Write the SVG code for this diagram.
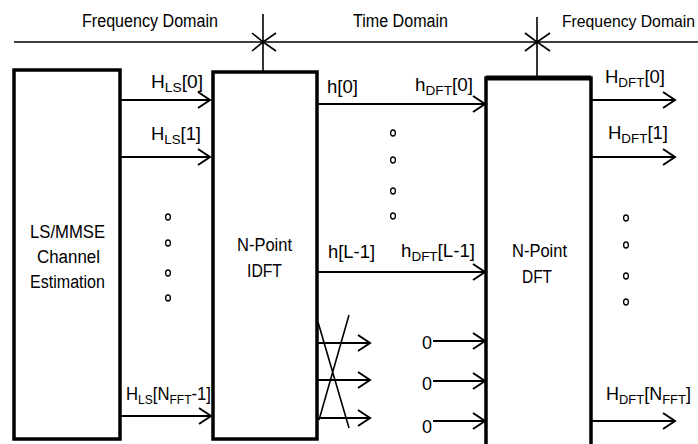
<svg xmlns="http://www.w3.org/2000/svg" width="698" height="444" viewBox="0 0 698 444">
<style>
text{font-family:"Liberation Sans",Arial,sans-serif;fill:#000}
.t{font-size:18px}
.l{font-size:18px}
.s{font-size:13px}
.box{fill:#fff;stroke:#000;stroke-width:3.5}
.a{stroke:#000;stroke-width:2;fill:none;marker-end:url(#ah)}
.d{fill:none;stroke:#000;stroke-width:1.3}
.thin{stroke:#000;stroke-width:1.6;fill:none}
</style>
<defs>
<marker id="ah" markerUnits="userSpaceOnUse" markerWidth="16" markerHeight="20" refX="13" refY="10" orient="auto">
<path d="M1,2 L13,10 L1,18" fill="none" stroke="#000" stroke-width="2"/>
</marker>
</defs>
<rect width="698" height="444" fill="#fff"/>

<g id="domains">
<text class="t" x="82" y="27" textLength="136" lengthAdjust="spacingAndGlyphs">Frequency Domain</text>
<text class="t" x="353" y="27" textLength="95" lengthAdjust="spacingAndGlyphs">Time Domain</text>
<text x="562" y="27" font-size="16" textLength="133" lengthAdjust="spacingAndGlyphs">Frequency Domain</text>
<path class="thin" d="M14,42 H698"/>
<path class="thin" d="M263,14 V72 M252,33 L263,42 L252,51 M276,33 L263,42 L276,51"/>
<path class="thin" d="M537,17 V78 M525,33 L537,42 L525,51 M550,33 L537,42 L550,51"/>
</g>

<g id="ls-mmse">
<rect class="box" x="14" y="70" width="106" height="369"/>
<text class="t" x="30" y="238" textLength="75" lengthAdjust="spacingAndGlyphs">LS/MMSE</text>
<text class="t" x="37" y="263" textLength="63" lengthAdjust="spacingAndGlyphs">Channel</text>
<text class="t" x="30" y="288" textLength="75" lengthAdjust="spacingAndGlyphs">Estimation</text>
</g>

<g id="idft">
<rect class="box" x="213" y="72" width="104" height="367"/>
<text class="t" x="237" y="251" textLength="55" lengthAdjust="spacingAndGlyphs">N-Point</text>
<text class="t" x="247" y="277" textLength="35" lengthAdjust="spacingAndGlyphs">IDFT</text>
</g>

<g id="dft">
<path class="box" d="M486,450 V78 H591 V450"/>
<path d="M486,78 H591" stroke="#000" stroke-width="5"/>
<text class="t" x="512" y="257" textLength="55" lengthAdjust="spacingAndGlyphs">N-Point</text>
<text class="t" x="522" y="283" textLength="30" lengthAdjust="spacingAndGlyphs">DFT</text>
</g>

<g id="connectors">
<path class="a" d="M120,100 H210"/>
<path class="a" d="M120,157 H210"/>
<path class="a" d="M120,416 H211"/>
<path class="a" d="M317,104 H485"/>
<path class="a" d="M317,272 H485"/>
<path class="a" d="M591,100 H675"/>
<path class="a" d="M591,157 H675"/>
<path class="a" d="M591,421 H675"/>
<path class="a" d="M317,343 H370"/>
<path class="a" d="M317,380 H370"/>
<path class="a" d="M317,418 H370"/>
<path class="thin" d="M318,322 L349,428 M349,315 L319,420"/>
<path class="a" d="M433,341 H485"/>
<path class="a" d="M433,381 H485"/>
<path class="a" d="M433,421 H485"/>
</g>

<g id="labels">
<text class="l" x="151" y="88" textLength="52" lengthAdjust="spacingAndGlyphs">H<tspan class="s" dy="4">LS</tspan><tspan dy="-4">[0]</tspan></text>
<text class="l" x="151" y="140" textLength="50" lengthAdjust="spacingAndGlyphs">H<tspan class="s" dy="4">LS</tspan><tspan dy="-4">[1]</tspan></text>
<text class="l" x="126" y="400" textLength="85" lengthAdjust="spacingAndGlyphs">H<tspan class="s" dy="4">LS</tspan><tspan dy="-4">[N</tspan><tspan class="s" dy="4">FFT</tspan><tspan dy="-4">-1]</tspan></text>
<text class="l" x="327" y="93" textLength="31" lengthAdjust="spacingAndGlyphs">h[0]</text>
<text class="l" x="415" y="91" textLength="58" lengthAdjust="spacingAndGlyphs">h<tspan class="s" dy="4">DFT</tspan><tspan dy="-4">[0]</tspan></text>
<text class="l" x="328" y="258" textLength="47" lengthAdjust="spacingAndGlyphs">h[L-1]</text>
<text class="l" x="401" y="257" textLength="74" lengthAdjust="spacingAndGlyphs">h<tspan class="s" dy="4">DFT</tspan><tspan dy="-4">[L-1]</tspan></text>
<text class="l" x="605" y="83" textLength="60" lengthAdjust="spacingAndGlyphs">H<tspan class="s" dy="4">DFT</tspan><tspan dy="-4">[0]</tspan></text>
<text class="l" x="608" y="139" textLength="60" lengthAdjust="spacingAndGlyphs">H<tspan class="s" dy="4">DFT</tspan><tspan dy="-4">[1]</tspan></text>
<text class="l" x="606" y="400" textLength="85" lengthAdjust="spacingAndGlyphs">H<tspan class="s" dy="4">DFT</tspan><tspan dy="-4">[N</tspan><tspan class="s" dy="4">FFT</tspan><tspan dy="-4">]</tspan></text>
<text class="l" x="422" y="349">0</text>
<text class="l" x="422" y="390">0</text>
<text class="l" x="422" y="433">0</text>
</g>

<g id="ellipsis">
<ellipse class="d" cx="168" cy="217" rx="2.4" ry="3"/>
<ellipse class="d" cx="168" cy="243" rx="2.4" ry="3"/>
<ellipse class="d" cx="168" cy="273" rx="2.4" ry="3"/>
<ellipse class="d" cx="168" cy="298" rx="2.4" ry="3"/>
<ellipse class="d" cx="393" cy="133" rx="2.4" ry="3"/>
<ellipse class="d" cx="393" cy="160" rx="2.4" ry="3"/>
<ellipse class="d" cx="393" cy="191" rx="2.4" ry="3"/>
<ellipse class="d" cx="393" cy="216" rx="2.4" ry="3"/>
<ellipse class="d" cx="626" cy="218" rx="2.4" ry="3"/>
<ellipse class="d" cx="626" cy="245" rx="2.4" ry="3"/>
<ellipse class="d" cx="626" cy="276" rx="2.4" ry="3"/>
<ellipse class="d" cx="626" cy="302" rx="2.4" ry="3"/>
</g>
</svg>
